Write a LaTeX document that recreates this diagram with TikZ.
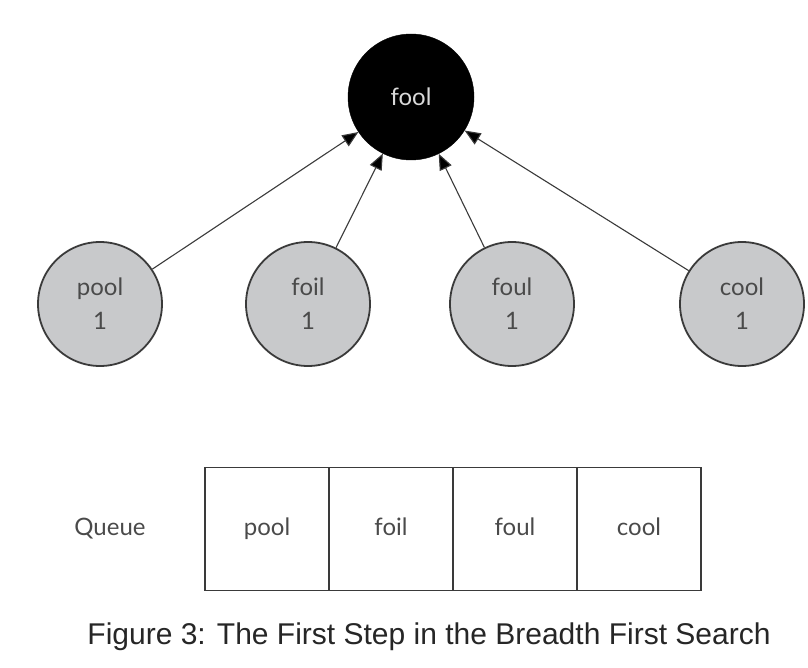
\documentclass[tikz,border=0pt]{standalone}
\usepackage{fontspec}
\newfontfamily\capfont{Liberation Sans}
\newfontfamily\nodefont{Lato}
\usetikzlibrary{arrows.meta}
\definecolor{nodegrey}{HTML}{C8C9CB}
\definecolor{edgegrey}{HTML}{3A3A3A}
\definecolor{txtgrey}{HTML}{4A4A4A}
\begin{document}
\begin{tikzpicture}[x=1pt,y=-1pt,
  vtx/.style={circle,draw=edgegrey,line width=1.8pt,fill=nodegrey,minimum size=124pt,inner sep=0pt,
    font=\nodefont\fontsize{24}{34}\selectfont,text=txtgrey,align=center},
  root/.style={circle,draw=black,fill=black,minimum size=126pt,inner sep=0pt,
    font=\nodefont\fontsize{24}{28}\selectfont,text=white!85!black},
  cell/.style={draw=edgegrey,line width=1.6pt,minimum width=124pt,minimum height=123pt,inner sep=0pt,
    text height=17pt,text depth=5pt,
    font=\nodefont\fontsize{24}{28}\selectfont,text=txtgrey},
  edge/.style={draw=edgegrey,line width=1.1pt,-{Triangle[length=16pt,width=13pt,fill=black]}}]
\useasboundingbox (0,0) rectangle (808,668);
\node[root] (fool) at (411,97) {fool};
\node[vtx] (pool) at (100,304) {pool\\1};
\node[vtx] (foil) at (308,304) {foil\\1};
\node[vtx] (foul) at (512,304) {foul\\1};
\node[vtx] (cool) at (742,304) {cool\\1};
\foreach \n in {pool,foil,foul,cool} \draw[edge] (\n) -- (fool);
\node[cell] (q1) at (267,529) {pool};
\node[cell] (q2) at (391,529) {foil};
\node[cell] (q3) at (515,529) {foul};
\node[cell] (q4) at (639,529) {cool};
\node[font=\nodefont\fontsize{24}{28}\selectfont,text=txtgrey,text height=17pt,text depth=5pt] (qlabel) at (110,529) {Queue};
\node[font=\capfont\fontsize{30}{34}\selectfont,text=black!85] (caption) at (429,637) {Figure 3: The First Step in the Breadth First Search};
\end{tikzpicture}
\end{document}
